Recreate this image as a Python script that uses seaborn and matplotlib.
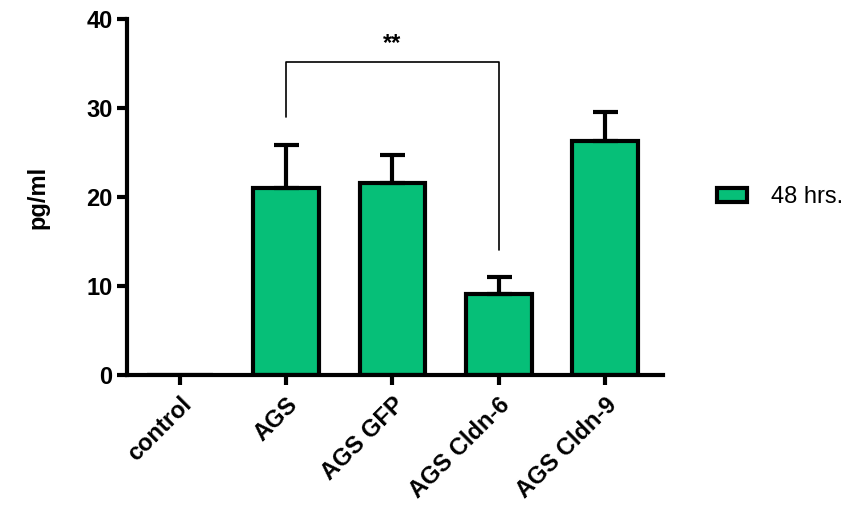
import numpy as np
import pandas as pd
import matplotlib
matplotlib.use("Agg")
import matplotlib.pyplot as plt
import seaborn as sns

# data
groups = ["control", "AGS", "AGS GFP", "AGS Cldn-6", "AGS Cldn-9"]
means = [0.0, 21.0, 21.6, 9.1, 26.3]
errors = [0.0, 4.8, 3.1, 1.9, 3.3]
series = "48 hrs."

bar_color = "#06BF78"

sns.set_theme(style="ticks", rc={"text.color": "black", "axes.edgecolor": "black",
                                 "axes.labelcolor": "black", "xtick.color": "black",
                                 "ytick.color": "black"})
plt.rcParams["font.family"] = ["Liberation Sans", "DejaVu Sans"]

df = pd.DataFrame({"group": groups, "value": means, "time": series})

fig = plt.figure(figsize=(8.67, 5.12), dpi=100)
ax = fig.add_axes([0.1465, 0.2676, 0.6185, 0.6954])

sns.barplot(data=df, x="group", y="value", hue="time", palette=[bar_color],
            order=groups, width=0.62, edgecolor="black", linewidth=3,
            errorbar=None, ax=ax, legend=True, saturation=1)

# one-sided SEM bars, upward only
x = np.arange(len(groups))
ax.errorbar(x[1:], means[1:], yerr=[np.zeros(len(groups) - 1), errors[1:]],
            fmt="none", ecolor="black", elinewidth=3, capsize=9, capthick=3,
            zorder=1)

# significance bracket AGS vs AGS Cldn-6
ax.plot([1, 1, 3, 3], [29.0, 35.2, 35.2, 14.0], color="black", lw=1.2)
ax.text(2, 36.0, "**", ha="center", va="bottom", fontsize=17, fontweight="bold")

ax.set_ylim(0, 40)
ax.set_xlim(-0.5, 4.55)
ax.set_yticks([0, 10, 20, 30, 40])
ax.set_xlabel("")
ax.set_ylabel("pg/ml", fontsize=17, fontweight="bold", labelpad=26)

for s in ["top", "right"]:
    ax.spines[s].set_visible(False)
for s in ["left", "bottom"]:
    ax.spines[s].set_linewidth(3)
ax.tick_params(axis="both", width=3, length=7, labelsize=17, direction="out")
ax.tick_params(axis="x", pad=6)
for lab in ax.get_yticklabels():
    lab.set_fontweight("bold")
ax.set_xticks(x)
ax.set_xticklabels(groups, rotation=45, ha="right", rotation_mode="anchor",
                   fontweight="bold", fontsize=17)

leg = ax.legend(loc="center left", bbox_to_anchor=(1.06, 0.5), frameon=False,
                fontsize=17, handlelength=1.3, handleheight=0.55, handletextpad=1.0)
for h in leg.legend_handles:
    h.set_edgecolor("black")
    h.set_linewidth(3)

fig.savefig("out.png", dpi=100)
